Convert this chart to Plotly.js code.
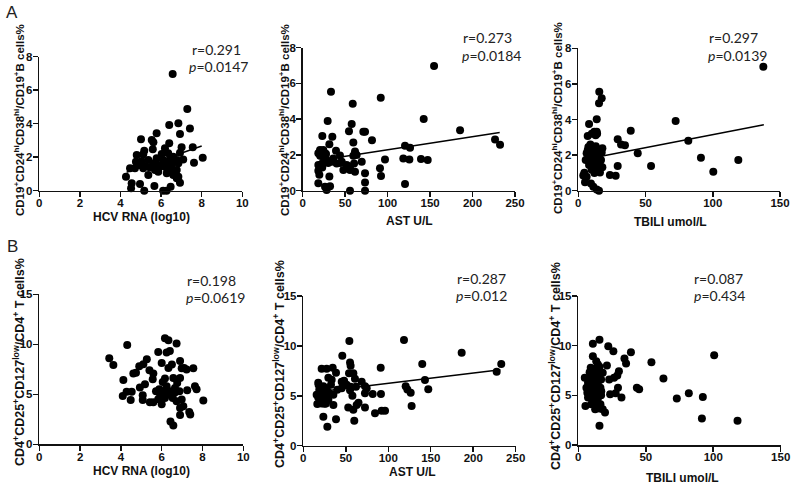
<!DOCTYPE html>
<html><head><meta charset="utf-8">
<script src="https://cdn.plot.ly/plotly-3.0.1.min.js"></script>
<style>html,body{margin:0;padding:0;background:#fff}#chart{width:800px;height:485px}</style>
</head><body><div id="chart"></div>
<script>
// ---------- DATA ----------
// Panel A1: HCV RNA (log10) vs CD19+CD24hiCD38hi/CD19+ B cells%
const a1x = [6.57,7.29,6.40,6.85,7.42,5.78,5.54,5.62,5.01,6.93,6.40,6.19,5.17,5.59,7.56,7.01,4.80,5.12,6.03,6.35,6.93,6.60,4.76,5.04,5.37,5.78,6.11,6.44,6.77,7.09,8.05,4.47,4.96,5.20,5.62,5.86,6.19,6.52,6.85,7.62,4.27,4.71,5.12,5.45,5.70,5.95,6.28,6.60,6.77,5.37,5.86,6.28,6.60,6.85,4.55,4.52,4.96,5.17,5.67,6.10,6.27,6.93,6.47,6.77];
const a1y = [6.97,4.88,3.92,4.02,3.72,3.43,3.03,2.89,3.07,3.39,2.83,2.53,2.39,2.47,2.59,2.59,2.13,2.17,2.19,2.23,2.27,2.03,1.73,1.77,1.83,1.93,1.83,1.83,1.83,1.87,1.97,1.34,1.53,1.47,1.64,1.53,1.59,1.53,1.64,1.67,0.84,1.34,1.34,1.39,1.24,1.43,1.34,1.24,1.24,0.94,1.13,1.04,0.94,0.84,0.44,0.14,0.40,0.0,0.28,0.0,0.0,0.48,0.24,0.74];
const a1FitX = [4.3, 8.0];
const a1FitY = [1.10, 2.67];

// Panel A2: AST U/L
const a2x = [154.7,33.3,91.9,58.9,142.5,29.4,57.7,54.5,71.4,73.4,59.6,81.6,185.3,226.5,232.4,23.1,34.9,31.4,120.5,126.4,39.2,20.4,24.3,61.6,18.4,22.3,26.3,59.6,63.5,69.5,96.9,118.5,125.6,139.3,147.2,43.9,36.0,28.2,18.4,22.3,34.0,40.0,46.0,51.8,55.7,60.5,47.9,55.7,61.6,73.4,91.0,92.2,18.4,19.6,31.4,18.4,26.3,32.2,28.2,55.7,73.4,73.4,120.5,20.5,25.0,27.5,30.0,23.0,44.0];
const a2y = [6.98,5.54,5.2,4.87,4.01,3.9,3.73,3.32,3.3,3.3,2.69,2.82,3.38,2.87,2.57,3.06,3.02,2.6,2.52,2.4,2.24,2.27,2.27,2.2,2.1,2.1,2.1,1.95,2.0,1.62,1.75,1.8,1.75,1.78,1.72,1.97,1.8,1.72,1.44,1.5,1.62,1.52,1.62,1.44,1.35,1.52,1.16,1.16,1.06,0.97,1.25,0.82,1.12,0.89,0.8,0.41,0.22,0.25,0.04,0.0,0.46,0.0,0.37,1.95,1.85,2.05,1.55,1.3,1.55];
const a2FitX = [20, 232];
const a2FitY = [1.70, 3.25];

// Panel A3: TBILI umol/L
const a3x = [137.6,15.6,17.4,15.4,72.4,13.7,8.0,11.9,13.7,12.9,7.0,39,29.3,31.8,34.7,81.8,44.2,54.1,91.2,119,100.4,29.3,23.5,27.8,17.9,7.5,7.0,6.2,9.4,12.4,15.4,17.4,5.5,8.7,11.2,13.7,16.9,8.0,11.9,14.9,17.9,9.9,14.4,16.1,4.5,6.2,5.0,9.4,11.2,13.7,15.4,3.7,10,13,14,11,16,12,15,9,12,16,14,10];
const a3y = [6.97,5.56,5.19,4.91,3.92,4.01,3.75,3.31,3.31,3.12,3.07,3.37,2.89,2.6,2.56,2.81,2.1,1.39,1.85,1.72,1.07,1.39,0.88,0.84,2.38,2.45,2.27,2.1,2.02,2.06,1.95,2.14,1.72,1.62,1.72,1.59,1.72,1.45,1.35,1.39,1.32,1.17,1.13,1.02,1.01,0.78,0.47,0.41,0.22,0.07,0.0,0.85,2.3,2.5,1.8,1.5,1.6,1.0,2.3,2.6,2.2,1.25,3.2,3.2];
const a3FitX = [18, 138];
const a3FitY = [1.95, 3.71];

// Panel B1: HCV RNA (log10) vs CD4+CD25+CD127low/CD4+ T cells%
const b1x = [3.43,3.63,4.31,4.12,4.28,4.09,4.48,4.53,4.61,4.74,4.90,5.07,5.07,5.10,5.27,4.93,5.18,5.40,5.59,5.42,5.59,5.56,5.83,6.00,5.72,5.88,6.16,6.33,6.24,6.40,6.73,6.05,6.16,6.24,6.33,6.50,6.41,6.54,6.65,6.76,6.90,6.98,7.10,7.22,6.90,6.87,6.73,6.98,7.06,6.90,7.35,7.40,6.43,6.57,6.90,7.55,7.63,7.71,7.25,8.04,5.83,6.00,6.16,6.33,5.92,6.08,6.57,6.65];
const b1y = [8.6,7.93,9.93,6.43,5.26,4.83,4.43,5.26,7.07,7.15,7.8,4.43,4.9,8.0,8.5,5.67,6.0,7.4,7.07,4.2,4.2,6.5,9.23,8.13,5.3,5.5,10.6,10.4,9.17,9.33,10.07,6.23,6.57,5.8,7.63,7.97,5.3,4.63,5.63,6.13,8.33,7.6,7.63,7.47,6.63,5.3,4.3,4.47,3.8,3.63,3.23,2.97,2.27,1.87,2.93,7.6,5.8,5.5,5.4,4.37,4.5,4.0,4.63,4.97,5.0,5.3,6.63,5.17];

// Panel B2: AST U/L
const b2x = [54.2,118.5,186.4,45.9,233,227.6,140,91.1,55,55.7,53.8,58.9,21.6,27.5,34.6,38.5,143.2,147.1,120.5,122.5,126.4,127.5,60.8,68.7,72.6,45.2,51,55.7,55,57.8,29.5,33.4,17.6,23.6,27.5,32.6,18.8,25.5,15.7,21.6,27.5,35.4,17.6,23.6,29.5,16.5,21.6,26.7,35.4,40,45.2,74.6,72.6,81.7,91.4,72.6,62.8,52.9,58.9,60,84.4,92.2,96.2,23.6,38.5,28.3,20,25,30,18,62,65,48];
const b2y = [10.49,10.59,9.32,9.02,8.19,7.42,8.19,7.82,8.34,8.0,7.25,7.25,7.72,7.72,7.82,7.3,6.58,5.65,5.96,5.62,5.3,3.98,6.7,6.41,5.96,6.41,6.1,5.9,5.55,5.0,6.8,6.6,6.3,5.95,5.75,6.1,5.6,5.5,5.1,4.95,5.0,5.1,4.84,4.6,4.6,4.18,4.23,4.23,4.08,5.6,5.76,5.76,5.25,5.18,5.18,3.84,4.08,3.84,3.6,2.5,3.25,3.5,3.5,2.9,2.64,1.91,5.3,4.2,5.3,6.1,5.9,4.3,6.5];
const b2FitX = [18, 232];
const b2FitY = [5.4, 7.6];

// Panel B3: TBILI umol/L
const b3x = [15.7,10.8,22.2,26,39,100.7,34.2,35.4,54.2,21.2,63.1,30.1,28.9,26.5,22.9,43.4,45.1,29.4,81.9,73,92.3,91.6,118,23.6,27.7,32,19.8,10.8,13.3,14.5,9.2,12.5,15.7,8.4,11.6,14.9,18.1,4.8,9.6,13.3,16.9,7.2,10.8,14.5,6,9.6,13.3,16.4,6.7,10.1,14,16.9,7.2,10.8,14.5,5.3,9.6,13.3,16.4,12.5,15.7,18.1,15.7,11,12,14,8,12,17,13,11];
const b3y = [10.6,10.2,9.93,9.43,9.33,9.03,8.7,8.2,8.33,8.0,6.7,7.43,7.0,6.77,6.6,5.77,5.6,5.77,5.2,4.67,4.83,2.67,2.43,5.1,5.2,4.77,3.27,8.93,8.43,8.1,7.77,7.67,7.87,7.33,7.27,7.43,7.27,6.77,6.67,6.87,6.6,6.27,6.1,6.27,5.77,5.6,5.67,5.77,5.27,5.1,5.2,5.0,4.77,4.6,4.67,3.93,4.1,4.27,4.1,3.6,3.67,3.6,1.93,5.5,4.2,3.8,5.9,6.5,5.4,4.9,6.9];

// Tick values
const hcvTicks = [0, 2, 4, 6, 8, 10];
const astTicks = [0, 50, 100, 150, 200, 250];
const tbiliTicks = [0, 50, 100, 150];
const yTicksA = [0, 2, 4, 6, 8];
const yTicksB = [0, 5, 10, 15];

// Texts
const yTitleA = "<b>CD19<sup>+</sup>CD24<sup>hi</sup>CD38<sup>hi</sup>/CD19<sup>+</sup>B cells%</b>";
const yTitleB = "<b>CD4<sup>+</sup>CD25<sup>+</sup>CD127<sup>low</sup>/CD4<sup>+</sup> T cells%</b>";
const xTitles = ["HCV RNA (log10)", "AST U/L", "TBILI umol/L"];
const rVals = ["0.291","0.273","0.297","0.198","0.287","0.087"];
const pVals = ["0.0147","0.0184","0.0139","0.0619","0.012","0.434"];

// ---------- LAYOUT HELPERS ----------
const W = 800, H = 485;
const fx = x => x / W, fy = y => 1 - y / H;
const AX = '#111';
const tickFont = {family: 'Liberation Sans, Arial, sans-serif', size: 11.5, color: AX, weight: 700};
const bold = v => '<b>' + v + '</b>';

function common(ticks) {
  return {tickmode: 'array', tickvals: ticks, ticktext: ticks.map(bold),
    showline: true, linecolor: AX, linewidth: 1.5, ticks: 'outside', ticklen: 5, tickwidth: 1.5, tickcolor: AX,
    showgrid: false, zeroline: false, tickfont: tickFont, fixedrange: true};
}
function xax(ticks, l, r, anchor) {
  return Object.assign(common(ticks), {domain: [fx(l), fx(r)], range: [ticks[0], ticks[ticks.length-1]],
    anchor: anchor, ticklabelstandoff: -4});
}
function yax(ticks, top, bot, anchor) {
  return Object.assign(common(ticks), {domain: [fy(bot), fy(top)], range: [ticks[0], ticks[ticks.length-1]],
    anchor: anchor, ticklabelstandoff: -2});
}

const panels = [
  {x: a1x, y: a1y, fx: a1FitX, fy: a1FitY, xt: hcvTicks, yt: yTicksA, box: [39.3,242.3,56.7,190.7]},
  {x: a2x, y: a2y, fx: a2FitX, fy: a2FitY, xt: astTicks, yt: yTicksA, box: [302.7,515,47.7,190.7]},
  {x: a3x, y: a3y, fx: a3FitX, fy: a3FitY, xt: tbiliTicks, yt: yTicksA, box: [578.3,780,48.3,190.7]},
  {x: b1x, y: b1y, fx: null, fy: null, xt: hcvTicks, yt: yTicksB, box: [39.3,243.3,294.3,444.3]},
  {x: b2x, y: b2y, fx: b2FitX, fy: b2FitY, xt: astTicks, yt: yTicksB, box: [303.3,515.7,296,445.7]},
  {x: b3x, y: b3y, fx: null, fy: null, xt: tbiliTicks, yt: yTicksB, box: [578.3,780.7,296,445]}
];

const data = [];
const layout = {width: W, height: H, margin: {l:0, r:0, t:0, b:0}, showlegend: false,
  paper_bgcolor: '#fff', plot_bgcolor: '#fff', annotations: []};

panels.forEach((p, i) => {
  const n = i === 0 ? '' : String(i + 1);
  const xa = 'x' + n, ya = 'y' + n;
  layout['xaxis' + n] = xax(p.xt, p.box[0], p.box[1], ya);
  layout['yaxis' + n] = yax(p.yt, p.box[2], p.box[3], xa);
  data.push({type: 'scatter', mode: 'markers', x: p.x, y: p.y, xaxis: xa, yaxis: ya,
    marker: {size: 8, color: '#000'}, cliponaxis: false, hoverinfo: 'skip'});
  if (p.fx) {
    data.push({type: 'scatter', mode: 'lines', x: p.fx, y: p.fy, xaxis: xa, yaxis: ya,
      line: {color: '#000', width: 1.5}, hoverinfo: 'skip'});
  }
});

// annotation positions (pixels)
const yTitlePos = [[19,120],[284,120],[557,118],[19,362],[279,364],[555,366]];
const xTitlePos = [[141,217],[410,221],[670,222],[141,471],[412,472],[682,478]];
const rPos = [[190,50],[461,38],[707,38],[185,280],[455,278],[692,278]];
const pPos = [[187,67],[460,55],[706,55],[184,297],[454,295],[692,295]];

const titleFontA = {family: 'Liberation Sans, Arial, sans-serif', size: 11.5, color: AX};
const titleFontB = {family: 'Liberation Sans, Arial, sans-serif', size: 12.5, color: AX};
const statFont = {family: 'Lato, Carlito, sans-serif', size: 14, color: '#222'};

for (let i = 0; i < 6; i++) {
  layout.annotations.push({xref: 'paper', yref: 'paper', x: fx(yTitlePos[i][0]), y: fy(yTitlePos[i][1]),
    text: i < 3 ? yTitleA : yTitleB, textangle: -90, showarrow: false, xanchor: 'center', yanchor: 'middle',
    font: i < 3 ? titleFontA : titleFontB});
  layout.annotations.push({xref: 'paper', yref: 'paper', x: fx(xTitlePos[i][0]), y: fy(xTitlePos[i][1]),
    text: bold(xTitles[i % 3]), showarrow: false, xanchor: 'center', yanchor: 'middle',
    font: {family: 'Liberation Sans, Arial, sans-serif', size: 12, color: AX}});
  layout.annotations.push({xref: 'paper', yref: 'paper', x: fx(rPos[i][0]), y: fy(rPos[i][1]),
    text: 'r=' + rVals[i], showarrow: false, xanchor: 'left', yanchor: 'middle', font: statFont});
  layout.annotations.push({xref: 'paper', yref: 'paper', x: fx(pPos[i][0]), y: fy(pPos[i][1]),
    text: '<i>p</i>=' + pVals[i], showarrow: false, xanchor: 'left', yanchor: 'middle', font: statFont});
}
layout.annotations.push({xref: 'paper', yref: 'paper', x: fx(12), y: fy(12), text: 'A', showarrow: false,
  xanchor: 'center', yanchor: 'middle', font: {family: 'Liberation Sans, Arial, sans-serif', size: 17, color: '#222'}});
layout.annotations.push({xref: 'paper', yref: 'paper', x: fx(12), y: fy(247), text: 'B', showarrow: false,
  xanchor: 'center', yanchor: 'middle', font: {family: 'Liberation Sans, Arial, sans-serif', size: 17, color: '#222'}});

Plotly.newPlot('chart', data, layout, {displayModeBar: false, staticPlot: true});
</script></body></html>
